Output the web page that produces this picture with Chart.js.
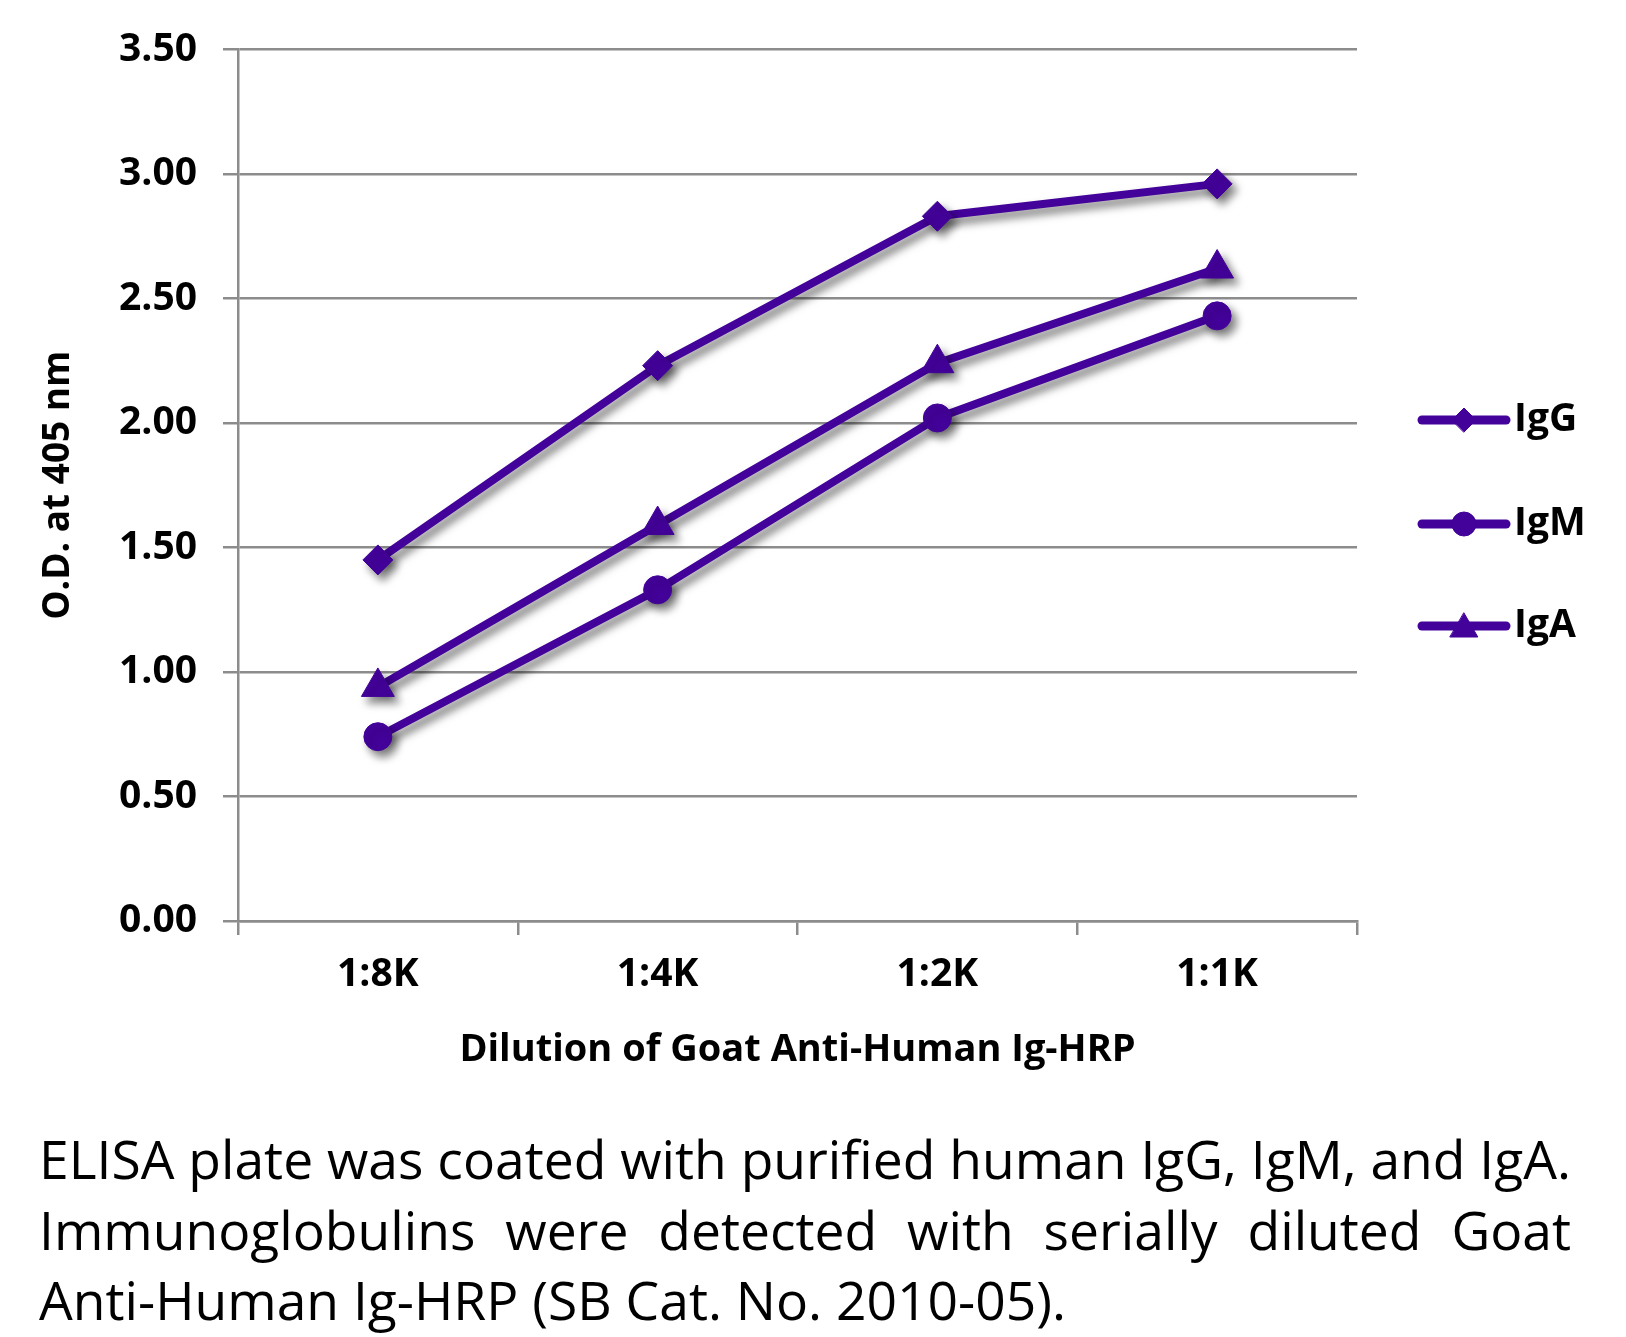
<!DOCTYPE html>
<html>
<head>
<meta charset="utf-8">
<script src="https://cdn.jsdelivr.net/npm/chart.js@4.4.1/dist/chart.umd.min.js"></script>
<style>
  body { margin: 0; background: #fff; }
  #wrap { position: relative; width: 1626px; height: 1337px; }
  #caption { position: absolute; left: 39px; top: 1124px; width: 1532px;
             font-family: "Open Sans", sans-serif; font-weight: 400; color: #000;
             line-height: 70.5px; }
  #caption div { white-space: nowrap; }
  #caption .j { text-align: justify; text-align-last: justify; white-space: normal; }
</style>
</head>
<body>
<div id="wrap">
  <canvas id="odChart" width="1626" height="1090"></canvas>
  <div id="caption">
    <div class="j">ELISA plate was coated with purified human IgG, IgM, and IgA.</div>
    <div class="j">Immunoglobulins were detected with serially diluted Goat</div>
    <div>Anti-Human Ig-HRP (SB Cat. No. 2010-05).</div>
  </div>
</div>
<script>
// dữ liệu
const categories = ['1:8K', '1:4K', '1:2K', '1:1K'];
const seriesNames = ['IgG', 'IgM', 'IgA'];
const iggValues = [1.45, 2.23, 2.83, 2.96];
const igmValues = [0.74, 1.33, 2.02, 2.43];
const igaValues = [0.94, 1.59, 2.24, 2.62];
const yTicks = [0, 0.5, 1.0, 1.5, 2.0, 2.5, 3.0, 3.5];

const purple = '#43029a';
const gridGrey = '#8c8c8c';
const boldFont = "'Open Sans', sans-serif";

// cỡ chữ chú thích cho vừa dòng đầu
(function fitCaption() {
    const c = document.createElement('canvas').getContext('2d');
    c.font = "100px 'Open Sans'";
    const w = c.measureText('ELISA plate was coated with purified human IgG, IgM, and IgA.').width;
    const size = Math.min(58, 100 * 1532 / w);
    document.getElementById('caption').style.fontSize = size.toFixed(2) + 'px';
})();

// bóng đổ cho đường và điểm
const shadowPlugin = {
    id: 'shadow',
    beforeDatasetsDraw(chart) {
        const ctx = chart.ctx;
        ctx.save();
        ctx.shadowColor = 'rgba(0,0,0,0.5)';
        ctx.shadowBlur = 8;
        ctx.shadowOffsetX = 5;
        ctx.shadowOffsetY = 6;
    },
    afterDatasetsDraw(chart) {
        chart.ctx.restore();
    }
};

// chú giải bên phải: đoạn thẳng + ký hiệu
const legendPlugin = {
    id: 'sideLegend',
    afterDraw(chart) {
        const ctx = chart.ctx;
        const rows = [420, 524, 626];
        const legendRadius = [12, 12, 16];
        chart.data.datasets.forEach((ds, i) => {
            const y = rows[i];
            ctx.save();
            ctx.strokeStyle = ds.borderColor;
            ctx.fillStyle = ds.backgroundColor;
            ctx.lineWidth = 9;
            ctx.lineCap = 'round';
            ctx.beginPath();
            ctx.moveTo(1422, y);
            ctx.lineTo(1506, y);
            ctx.stroke();
            ctx.lineWidth = 1;
            Chart.helpers.drawPoint(ctx, {
                pointStyle: ds.pointStyle, radius: legendRadius[i], rotation: 0, borderWidth: 1
            }, 1464, ds.pointStyle === 'triangle' ? y + 3 : y);
            ctx.fillStyle = '#000';
            ctx.font = "bold 39px " + boldFont;
            ctx.textAlign = 'left';
            ctx.textBaseline = 'middle';
            ctx.fillText(ds.label, 1514, y);
            ctx.restore();
        });
    }
};

function makeSet(name, values, style, radius) {
    return {
        label: name,
        data: values,
        borderColor: purple,
        backgroundColor: purple,
        borderWidth: 8,
        pointStyle: style,
        pointRadius: radius,
        pointBorderWidth: 1,
        tension: 0
    };
}

var ctx = document.getElementById('odChart').getContext('2d');
var odChart = new Chart(ctx, {
    type: 'line',
    data: {
        labels: categories,
        datasets: [
            makeSet(seriesNames[0], iggValues, 'rectRot', 15),
            makeSet(seriesNames[1], igmValues, 'circle', 14),
            makeSet(seriesNames[2], igaValues, 'triangle', 19)
        ]
    },
    options: {
        responsive: false,
        animation: false,
        devicePixelRatio: 1,
        layout: { padding: { top: 49, right: 269, bottom: 0, left: 0 } },
        plugins: {
            legend: { display: false },
            tooltip: { enabled: false }
        },
        scales: {
            x: {
                offset: true,
                grid: {
                    offset: true,
                    drawOnChartArea: false,
                    drawTicks: true,
                    tickLength: 14,
                    color: gridGrey,
                    lineWidth: 2.5
                },
                border: { color: gridGrey, width: 2.5 },
                ticks: {
                    color: '#000',
                    font: { family: boldFont, size: 39, weight: 'bold' },
                    padding: 16,
                    maxRotation: 0
                },
                title: {
                    display: true,
                    text: 'Dilution of Goat Anti-Human Ig-HRP',
                    color: '#000',
                    font: { family: boldFont, size: 38, weight: 'bold' },
                    padding: { top: 0, bottom: 17 }
                },
                afterFit(scale) { scale.height = 1090 - 921; }
            },
            y: {
                min: 0,
                max: 3.5,
                afterBuildTicks(scale) { scale.ticks = yTicks.map(v => ({ value: v })); },
                grid: {
                    color: gridGrey,
                    lineWidth: 2.5,
                    tickLength: 15
                },
                border: { color: gridGrey, width: 2.5 },
                ticks: {
                    color: '#000',
                    font: { family: boldFont, size: 39, weight: 'bold' },
                    padding: 26,
                    callback: v => Number(v).toFixed(2)
                },
                title: {
                    display: true,
                    text: 'O.D. at 405 nm',
                    color: '#000',
                    font: { family: boldFont, size: 37, weight: 'bold' },
                    padding: { top: 36, bottom: 0 }
                },
                afterFit(scale) { scale.width = 238; }
            }
        }
    },
    plugins: [shadowPlugin, legendPlugin]
});
</script>
</body>
</html>
